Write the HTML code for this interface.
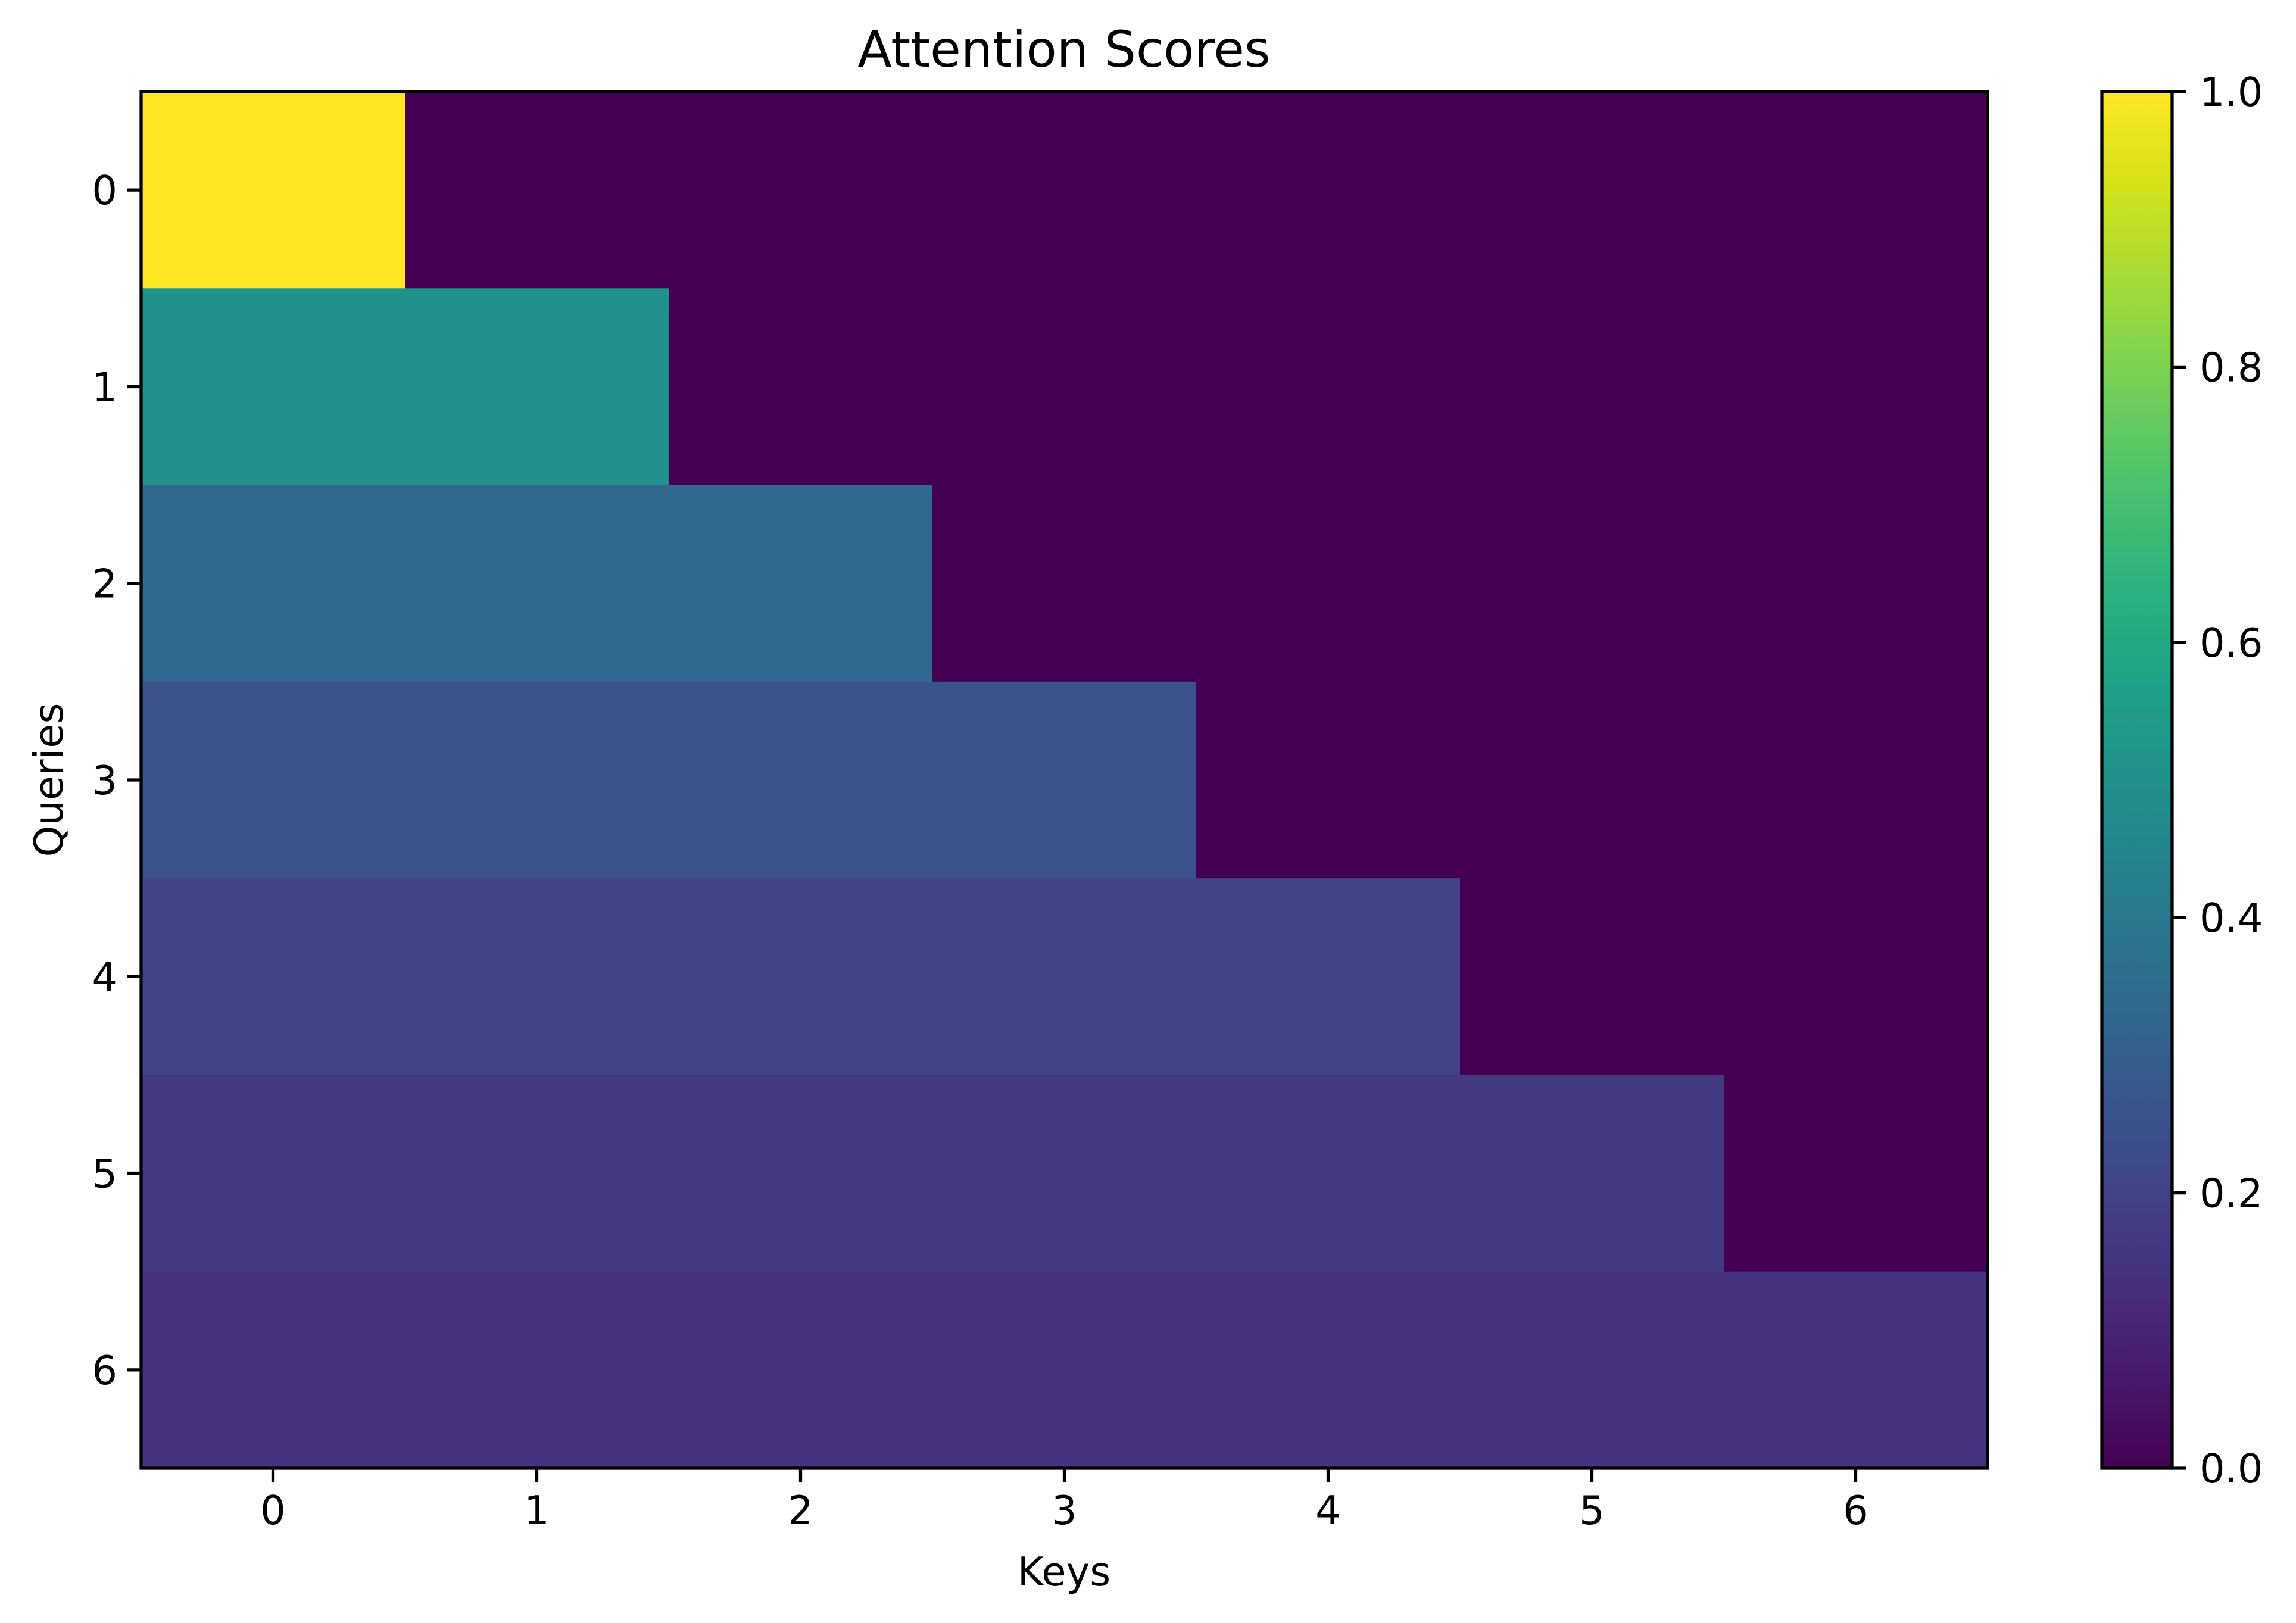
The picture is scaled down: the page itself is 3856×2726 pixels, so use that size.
<!DOCTYPE html>
<html><head><meta charset="utf-8"><style>
html,body{margin:0;padding:0;background:#fff;}
svg{display:block;font-family:"DejaVu Sans","Liberation Sans",sans-serif;}
</style></head><body>
<svg id="chart" width="3856" height="2726" viewBox="0 0 3856 2726" xmlns="http://www.w3.org/2000/svg">
<defs>
<linearGradient id="cbgrad" x1="0" y1="1" x2="0" y2="0"></linearGradient>
</defs>
<text x="1787" y="112" font-size="84" text-anchor="middle">Attention Scores</text>
<g id="cells"></g>
<rect x="237" y="154" width="3101" height="2312" fill="none" stroke="#000" stroke-width="5.3"/>
<g id="xticks"></g>
<g id="yticks"></g>
<text x="1787" y="2663" font-size="67" text-anchor="middle">Keys</text>
<text transform="translate(105,1310) rotate(-90)" font-size="67" text-anchor="middle">Queries</text>
<rect x="3530" y="154" width="118" height="2312" fill="url(#cbgrad)"/>
<rect x="3530" y="154" width="118" height="2312" fill="none" stroke="#000" stroke-width="5.3"/>
<g id="cbticks"></g>
</svg>
<script>
const keys = [0,1,2,3,4,5,6];
const queries = [0,1,2,3,4,5,6];
const scores = [
 [1,0,0,0,0,0,0],
 [0.5,0.5,0,0,0,0,0],
 [0.3333,0.3333,0.3333,0,0,0,0],
 [0.25,0.25,0.25,0.25,0,0,0],
 [0.2,0.2,0.2,0.2,0.2,0,0],
 [0.1667,0.1667,0.1667,0.1667,0.1667,0.1667,0],
 [0.1429,0.1429,0.1429,0.1429,0.1429,0.1429,0.1429]
];
const cbTicks = [0,0.2,0.4,0.6,0.8,1.0];
const cbTickLabels = ["0.0","0.2","0.4","0.6","0.8","1.0"];
const vmin = 0, vmax = 1;

const NS = "http://www.w3.org/2000/svg";
const X0 = 237, X1 = 3338, Y0 = 154, Y1 = 2466;
const nx = keys.length, ny = queries.length;
const xScale = v => X0 + (v + 0.5) / nx * (X1 - X0);
const yScale = v => Y0 + (v + 0.5) / ny * (Y1 - Y0);
const cbScale = v => Y1 - (v - vmin) / (vmax - vmin) * (Y1 - Y0);
const vir = ["#440154","#48186a","#472d7b","#424086","#3b528b","#33638d","#2c728e","#26828e","#21918c","#1fa088","#28ae80","#3fbc73","#5ec962","#84d44b","#addc30","#d8e219","#fde725"];
function hex(h){return [1,3,5].map(i=>parseInt(h.substr(i,2),16));}
function viridis(t){
  t = Math.max(0, Math.min(1, t));
  const p = t * (vir.length - 1), i = Math.min(Math.floor(p), vir.length - 2), f = p - i;
  const a = hex(vir[i]), b = hex(vir[i+1]);
  return "rgb(" + a.map((c,k)=>Math.round(c + (b[k]-c)*f)).join(",") + ")";
}
function mk(tag, attrs, parent){
  const el = document.createElementNS(NS, tag);
  for (const k in attrs) el.setAttribute(k, attrs[k]);
  parent.appendChild(el);
  return el;
}
const cells = document.getElementById("cells");
const cw = (X1 - X0) / nx, ch = (Y1 - Y0) / ny;
scores.forEach((row, r) => row.forEach((v, c) => {
  const el = mk("rect", {x: xScale(c) - cw/2, y: yScale(r) - ch/2, width: cw + 0.6, height: ch + 0.6, fill: viridis((v - vmin)/(vmax - vmin))}, cells);
  
  
}));
const xt = document.getElementById("xticks");
keys.forEach(k => {
  const x = xScale(k);
  const l = mk("line", {x1: x, x2: x, y1: Y1, y2: Y1 + 24, stroke: "#000", "stroke-width": 5.3}, xt);
  
  
  const t = mk("text", {x: x, y: Y1 + 94, "font-size": 67, "text-anchor": "middle"}, xt);
  t.textContent = String(k);
  
  
});
const yt = document.getElementById("yticks");
queries.forEach(q => {
  const y = yScale(q);
  const l = mk("line", {x1: X0 - 24, x2: X0, y1: y, y2: y, stroke: "#000", "stroke-width": 5.3}, yt);
  
  
  const t = mk("text", {x: X0 - 40, y: y + 24, "font-size": 67, "text-anchor": "end"}, yt);
  t.textContent = String(q);
  
  
});
const grad = document.getElementById("cbgrad");
for (let i = 0; i < 64; i++) {
  const t = i / 63;
  mk("stop", {offset: t, "stop-color": viridis(t)}, grad);
}
const cbt = document.getElementById("cbticks");
cbTicks.forEach((v, i) => {
  const y = cbScale(v);
  const l = mk("line", {x1: 3648, x2: 3672, y1: y, y2: y, stroke: "#000", "stroke-width": 5.3}, cbt);
  
  
  const t = mk("text", {x: 3694, y: y + 24, "font-size": 67}, cbt);
  t.textContent = cbTickLabels[i];
  
  
});
</script>
</body></html>
